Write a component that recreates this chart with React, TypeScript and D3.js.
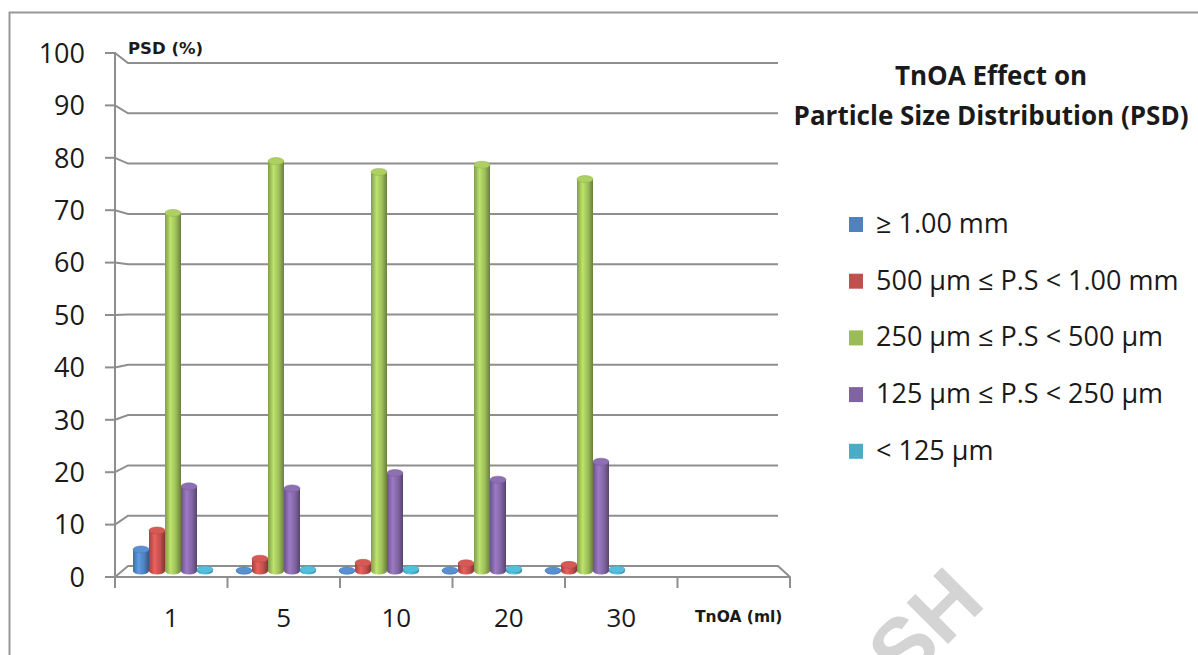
import React from "react";
import * as d3 from "d3";

const categories = ["1", "5", "10", "20", "30"];
const xAxisTitle = "TnOA (ml)";
const yAxisTitle = "PSD (%)";
const titleLines = ["TnOA Effect on", "Particle Size Distribution (PSD)"];
const seriesNames = [
  "≥ 1.00 mm",
  "500 µm ≤ P.S < 1.00 mm",
  "250 µm ≤ P.S < 500 µm",
  "125 µm ≤ P.S < 250 µm",
  "< 125 µm",
];
const seriesColors = ["#4F81BD", "#C0504D", "#9BBB59", "#8064A2", "#4BACC6"];
const ge1mm = [4.2, 0.1, 0.1, 0.1, 0.1];
const p500to1mm = [7.9, 2.4, 1.6, 1.5, 1.2];
const p250to500 = [69.8, 79.9, 77.8, 79.2, 76.4];
const p125to250 = [16.5, 16.1, 19.1, 17.8, 21.3];
const lt125 = [0.3, 0.3, 0.4, 0.4, 0.3];
const seriesValues = [ge1mm, p500to1mm, p250to500, p125to250, lt125];
const yTicks = [0, 10, 20, 30, 40, 50, 60, 70, 80, 90, 100];

const W = 1198;
const H = 655;
const GRID = "#8e8e8e";
const LABEL_FONT = "'Open Sans', Lato, sans-serif";
const SMALL_BOLD = "'DejaVu Sans', sans-serif";

export default function App() {
  const allCats = [...categories, xAxisTitle];
  const yFront = d3.scaleLinear().domain([0, 100]).range([577, 53]);
  const yBack = d3.scaleLinear().domain([0, 100]).range([566, 63]);
  const yBar = d3.scaleLinear().domain([0, 100]).range([571, 58]);
  const xFront = d3.scaleBand<string>().domain(allCats).range([115, 790]);
  const xBar = d3.scaleBand<string>().domain(allCats).range([121.5, 739.5]);
  const sub = d3
    .scaleBand<number>()
    .domain(seriesNames.map((_, i) => i))
    .range([-40, 40]);
  const bw = sub.bandwidth();
  const ry = 3.5;

  const gradId = (i: number) => `cyl-${i}`;

  return (
    <svg
      width={W}
      height={H}
      style={{ position: "absolute", left: 0, top: 0, background: "#fff", display: "block" }}
    >
      <defs>
        {seriesColors.map((c, i) => {
          const base = d3.color(c)!;
          return (
            <linearGradient key={i} id={gradId(i)} x1="0" x2="1" y1="0" y2="0">
              <stop offset="0%" stopColor={base.darker(0.5).formatHex()} />
              <stop offset="35%" stopColor={base.brighter(0.55).formatHex()} />
              <stop offset="70%" stopColor={base.formatHex()} />
              <stop offset="100%" stopColor={base.darker(1.1).formatHex()} />
            </linearGradient>
          );
        })}
      </defs>

      {/* outer border */}
      <line x1={9} x2={W} y1={12.5} y2={12.5} stroke="#979797" strokeWidth={2} />
      <line x1={9.5} x2={9.5} y1={12} y2={H} stroke="#979797" strokeWidth={2} />

      {/* gridlines on back wall with perspective connectors */}
      {yTicks.map((t) => (
        <g key={t}>
          <line x1={105} x2={115} y1={yFront(t)} y2={yFront(t)} stroke={GRID} strokeWidth={2} />
          {t > 0 && (
            <polyline
              points={`${115},${yFront(t)} ${128},${yBack(t)} ${778},${yBack(t)}`}
              fill="none"
              stroke={GRID}
              strokeWidth={2}
            />
          )}
          <text
            x={85}
            y={yFront(t)}
            dy="0.36em"
            textAnchor="end"
            fontFamily={LABEL_FONT}
            fontSize={27}
            fill="#1a1a1a"
          >
            {t}
          </text>
        </g>
      ))}

      {/* floor */}
      <polygon
        points={`${115},${yFront(0)} ${128},${yBack(0)} ${778},${yBack(0)} ${790},${yFront(0)}`}
        fill="#ffffff"
        stroke={GRID}
        strokeWidth={2}
        strokeLinejoin="round"
      />
      <line x1={790} x2={790} y1={yFront(0)} y2={586} stroke={GRID} strokeWidth={2} />

      {/* y axis */}
      <line x1={115} x2={115} y1={52} y2={588} stroke={GRID} strokeWidth={2} />

      {/* category ticks */}
      {allCats.map((c) => (
        <line
          key={c}
          x1={xFront(c)! + xFront.bandwidth()}
          x2={xFront(c)! + xFront.bandwidth()}
          y1={yFront(0)}
          y2={588}
          stroke={GRID}
          strokeWidth={2}
        />
      ))}

      {/* bars as cylinders */}
      {categories.map((c, ci) => (
        <g key={c}>
          {seriesValues.map((vals, si) => {
            const cx = xBar(c)! + xBar.bandwidth() / 2 + sub(si)! + bw / 2;
            const x0 = cx - bw / 2;
            const yb = yBar(0);
            const yt = yBar(vals[ci]);
            const col = d3.color(seriesColors[si])!;
            return (
              <g key={si}>
                <ellipse cx={cx} cy={yb} rx={bw / 2} ry={ry} fill={`url(#${gradId(si)})`} />
                <rect x={x0} y={yt} width={bw} height={Math.max(0, yb - yt)} fill={`url(#${gradId(si)})`} />
                <ellipse
                  cx={cx}
                  cy={yt}
                  rx={bw / 2}
                  ry={ry}
                  fill={col.brighter(0.3).formatHex()}
                  stroke={col.darker(0.2).formatHex()}
                  strokeWidth={0.5}
                />
              </g>
            );
          })}
        </g>
      ))}

      {/* category labels */}
      {categories.map((c) => (
        <text
          key={c}
          x={xFront(c)! + xFront.bandwidth() / 2}
          y={627}
          textAnchor="middle"
          fontFamily={LABEL_FONT}
          fontSize={26}
          fill="#1a1a1a"
        >
          {c}
        </text>
      ))}
      <text
        x={xFront(xAxisTitle)! + xFront.bandwidth() / 2 + 5}
        y={622}
        textAnchor="middle"
        fontFamily={SMALL_BOLD}
        fontWeight="bold"
        fontSize={15.5}
        fill="#1a1a1a"
      >
        {xAxisTitle}
      </text>

      {/* y axis title */}
      <text x={128} y={54} fontFamily={SMALL_BOLD} fontWeight="bold" fontSize={16.5} fill="#1a1a1a">
        {yAxisTitle}
      </text>

      {/* chart title */}
      {titleLines.map((t, i) => (
        <text
          key={i}
          x={991}
          y={85 + i * 40}
          textAnchor="middle"
          fontFamily={LABEL_FONT}
          fontWeight="bold"
          fontSize={26}
          fill="#1a1a1a"
        >
          {t}
        </text>
      ))}

      {/* legend */}
      {seriesNames.map((n, i) => (
        <g key={n} transform={`translate(849, ${233 + i * 56.7})`}>
          <rect x={0} y={-16} width={14} height={15} fill={seriesColors[i]} />
          <text x={27} y={0} fontFamily={LABEL_FONT} fontSize={27} fill="#1a1a1a">
            {n}
          </text>
        </g>
      ))}

      {/* watermark fragment */}
      <text
        x={904}
        y={688}
        transform="rotate(-45, 904, 688)"
        fontFamily="'Liberation Sans', Arial, sans-serif"
        fontWeight="bold"
        fontSize={85}
        fill="#d4d4d4"
      >
        SH
      </text>
    </svg>
  );
}
